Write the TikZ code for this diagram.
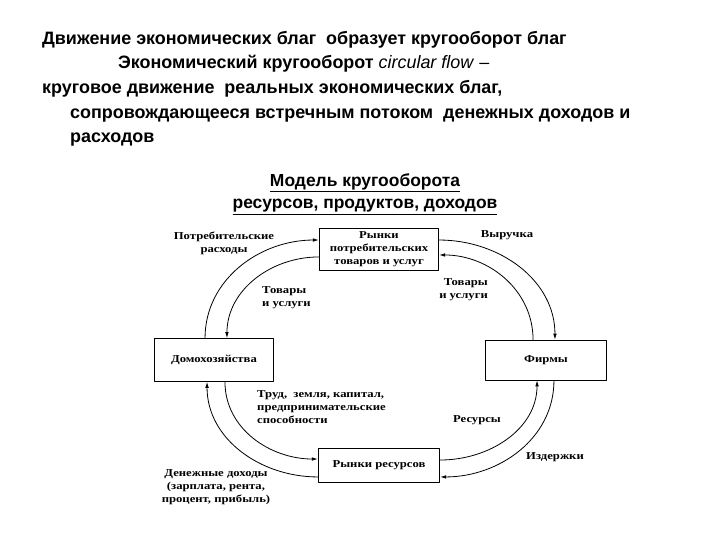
\documentclass[tikz,border=0pt]{standalone}
\usepackage{fontspec}
\setmainfont{Liberation Serif}
\setsansfont{Liberation Sans}
\newfontfamily\wideserif[FakeStretch=1.2]{Liberation Serif Bold}
\usetikzlibrary{arrows.meta,positioning}
\tikzset{flow/.style={
  x=1bp,y=1bp,
  >={Latex[length=6pt,width=3.6pt]},line join=round,line cap=round
},
  market/.style={draw,thick,fill=white,inner sep=1pt,align=center,
    font=\wideserif\fontsize{10.6}{12.8}\selectfont},
  lbl/.style={inner sep=0pt,font=\wideserif\fontsize{10.6}{13}\selectfont},
  head/.style={anchor=base west,inner sep=0pt,font=\sffamily\bfseries\fontsize{18}{20}\selectfont},
  cycle/.style={->,thick}
}

\begin{document}
\begin{tikzpicture}[flow]
  \useasboundingbox (0,0) rectangle (720,540);

  \node[head] (h1) at (42,495) {Движение экономических благ~ образует кругооборот благ};
  \node[head] (h2) at (118,471) {Экономический кругооборот \mdseries\textit{circular flow} –};
  \node[head] (h3) at (42,446) {круговое движение~ реальных экономических благ,};
  \node[head] (h4) at (70,421) {сопровождающееся встречным потоком~ денежных доходов и};
  \node[head] (h5) at (70,397) {расходов};

  \node[inner sep=0pt,align=center,font=\sffamily\bfseries\fontsize{17.5}{22.5}\selectfont]
    (title) at (365,346) {\underline{Модель кругооборота}\\ \underline{ресурсов, продуктов, доходов}};

  \node[market,minimum width=120,minimum height=42] (goods) at (379,291)
    {Рынки\\потребительских\\товаров и услуг};
  \node[market,minimum width=120,minimum height=43] (house) at (214,180) {Домохозяйства};
  \node[market,minimum width=122,minimum height=40] (firms) at (546,180) {Фирмы};
  \node[market,minimum width=122,minimum height=34] (res) at (379,75) {Рынки ресурсов};

  \draw[cycle] ([xshift=-9]house.north) to[out=90,in=180] ([yshift=9]goods.west);
  \draw[cycle] ([yshift=-8]goods.west) to[out=180,in=90] ([xshift=13]house.north);
  \draw[cycle] ([yshift=9]goods.east) to[out=0,in=90] ([xshift=9]firms.north);
  \draw[cycle] ([xshift=-13]firms.north) to[out=90,in=0] ([yshift=-6]goods.east);
  \draw[cycle] ([yshift=-12]res.west) to[out=180,in=-90] ([xshift=-7]house.south);
  \draw[cycle] ([xshift=11]house.south) to[out=-90,in=180] ([yshift=6]res.west);
  \draw[cycle] ([yshift=5]res.east) to[out=0,in=-90] ([xshift=-9]firms.south);
  \draw[cycle] ([xshift=8]firms.south) to[out=-90,in=0] ([yshift=-12]res.east);

  \node[lbl,align=center] (spend) at (224,297) {Потребительские\\расходы};
  \node[lbl] (revenue) at (507,305) {Выручка};
  \node[lbl,align=left,anchor=west] (goodsL) at (262,242) {Товары\\и услуги};
  \node[lbl,align=right,anchor=east] (goodsR) at (488,250) {Товары\\и услуги};
  \node[lbl,align=left,anchor=west] (factors) at (257,133)
    {Труд,~ земля, капитал,\\предпринимательские\\способности};
  \node[lbl] (resources) at (477,120) {Ресурсы};
  \node[lbl] (costs) at (555,83) {Издержки};
  \node[lbl,align=center] (income) at (216,53)
    {Денежные доходы\\(зарплата, рента,\\процент, прибыль)};
\end{tikzpicture}
\end{document}
